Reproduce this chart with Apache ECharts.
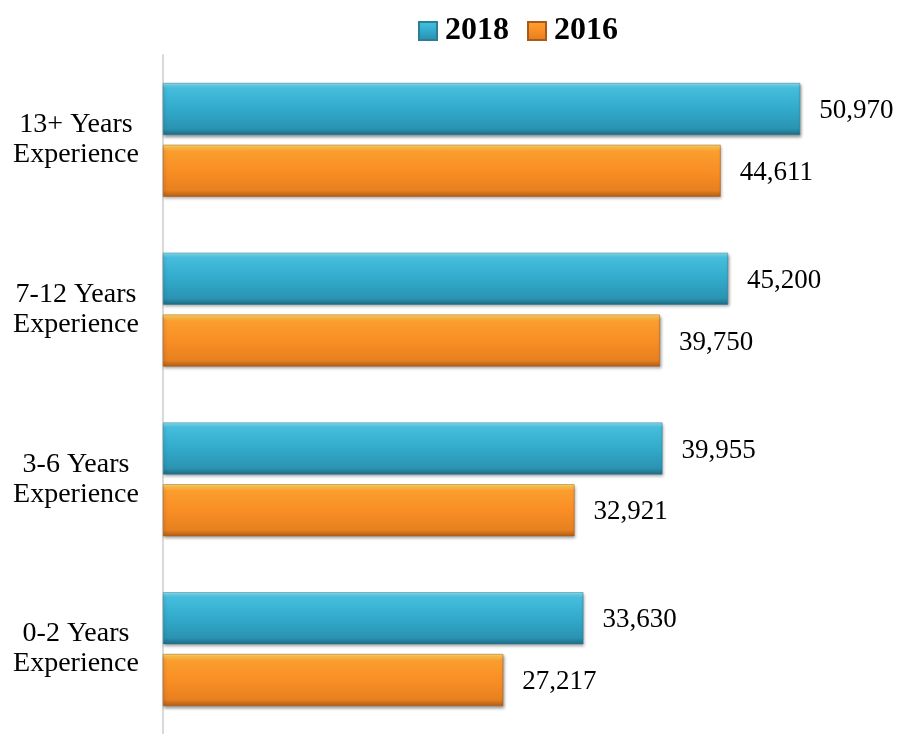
<!DOCTYPE html>
<html>
<head>
<meta charset="utf-8">
<script src="https://cdn.jsdelivr.net/npm/echarts@6/dist/echarts.min.js"></script>
<style>
html,body{margin:0;padding:0;background:#fff;}
#chart{width:904px;height:734px;}
</style>
</head>
<body>
<div id="chart"></div>
<script>
const categories = ["13+ Years\nExperience", "7-12 Years\nExperience", "3-6 Years\nExperience", "0-2 Years\nExperience"];
const values2018 = [50970, 45200, 39955, 33630];
const values2016 = [44611, 39750, 32921, 27217];
const seriesNames = ["2018", "2016"];

function grad(stops) {
  return new echarts.graphic.LinearGradient(0, 0, 0, 1, stops.map(s => ({offset: s[0], color: s[1]})));
}
const blueFill = grad([[0,'#8ae3f5'],[0.1,'#45bddc'],[0.5,'#32aacb'],[0.88,'#2b93b2'],[1,'#1d6a82']]);
const orangeFill = grad([[0,'#ffdc66'],[0.12,'#fb9e2e'],[0.5,'#f98e25'],[0.88,'#e7801f'],[1,'#b05d18']]);

const fmt = v => v.value.toLocaleString('en-US');
const labelCfg = {show: true, position: 'right', distance: 19, offset: [0, 2], formatter: fmt,
  fontFamily: '"Liberation Serif","Times New Roman",serif', fontSize: 27, color: '#000'};
const itemShadow = {shadowColor: 'rgba(0,0,0,0.4)', shadowBlur: 3, shadowOffsetX: 1, shadowOffsetY: 2};

const chart = echarts.init(document.getElementById('chart'), null, {renderer: 'canvas'});
chart.setOption({
  animation: false,
  backgroundColor: '#fff',
  legend: {
    data: seriesNames,
    top: 10,
    left: 413,
    itemWidth: 18,
    itemHeight: 18,
    itemGap: 18,
    icon: 'rect',
    textStyle: {fontFamily: '"Liberation Serif","Times New Roman",serif', fontSize: 32, fontWeight: 'bold', color: '#000', padding: [0,0,0,3]}
  },
  grid: {left: 163, right: 41, top: 55, bottom: -1, containLabel: false},
  xAxis: {type: 'value', min: 0, max: 56000, show: false},
  yAxis: {
    type: 'category',
    data: categories,
    inverse: true,
    axisLine: {show: true, lineStyle: {color: '#d9d9d9', width: 2}},
    axisTick: {show: false},
    splitLine: {show: false},
    axisLabel: {align: 'center', margin: 87, fontFamily: '"Liberation Serif","Times New Roman",serif', fontSize: 28, lineHeight: 30, color: '#000'}
  },
  series: [
    {name: seriesNames[0], type: 'bar', data: values2018, barGap: '19%', barCategoryGap: '33%',
     itemStyle: Object.assign({color: blueFill, borderColor: '#2a7f98', borderWidth: 0.5}, itemShadow), label: labelCfg},
    {name: seriesNames[1], type: 'bar', data: values2016, barGap: '19%', barCategoryGap: '33%',
     itemStyle: Object.assign({color: orangeFill, borderColor: '#a85a18', borderWidth: 0.5}, itemShadow), label: labelCfg}
  ]
});
</script>
</body>
</html>
